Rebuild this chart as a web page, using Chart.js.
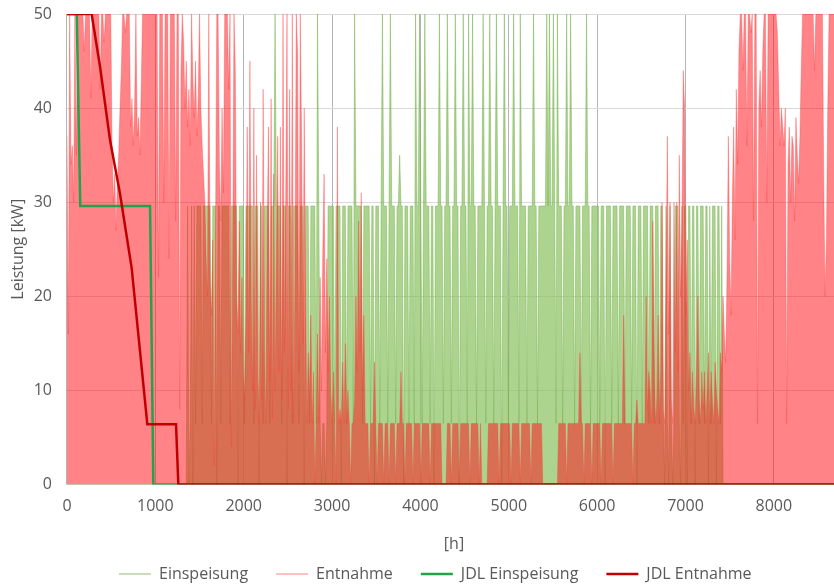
<!DOCTYPE html>
<html lang="de">
<head>
<meta charset="utf-8">
<title>Leistung Einspeisung / Entnahme</title>
<script src="https://cdn.jsdelivr.net/npm/chart.js@4.4.1/dist/chart.umd.min.js"></script>
<style>
  html, body { margin: 0; padding: 0; background: #fff; overflow: hidden; }
  #rahmen { width: 834px; height: 584px; overflow: hidden; }
</style>
</head>
<body>
<div id="rahmen"><canvas id="diagramm" width="867" height="592"></canvas></div>
<script>
// Zeitraster der Lastgänge: ein Wert alle 15 Stunden
const stunden = [];
for (let h = 0; h <= 8760; h += 15) stunden.push(h);

// Einspeisung [kW], je Zeile 20 Werte = 300 h
const einspeisung = [
  0, 0, 0, 0, 0, 0, 0, 0, 0, 0, 0, 0, 0, 0, 0, 0, 0, 0, 0, 0,
  0, 0, 0, 0, 0, 0, 0, 0, 0, 0, 0, 0, 0, 0, 0, 0, 0, 0, 0, 0,
  0, 0, 0, 0, 0, 0, 0, 0, 0, 0, 0, 0, 0, 0, 0, 0, 0, 0, 0, 0,
  0, 0, 0, 0, 0, 0, 0, 0, 0, 0, 0, 0, 0, 0, 0, 0, 0, 0, 0, 0,
  0, 0, 0, 0, 0, 0, 0, 0, 0, 0, 0, 29.6, 0, 6.5, 29.6, 0, 29.6, 6.5, 29.6, 29.6,
  29.6, 29.6, 6.5, 29.6, 29.6, 29.6, 29.6, 29.6, 29.6, 6.5, 29.6, 29.6, 29.6, 0, 29.6, 29.6, 6.5, 29.6, 29.6, 29.6,
  29.6, 29.6, 29.6, 6.5, 29.6, 29.6, 29.6, 29.6, 29.6, 0, 29.6, 29.6, 29.6, 29.6, 6.5, 29.6, 29.6, 29.6, 29.6, 29.6,
  29.6, 6.5, 29.6, 29.6, 29.6, 0, 29.6, 29.6, 6.5, 29.6, 29.6, 29.6, 29.6, 6.5, 29.6, 29.6, 29.6, 50, 29.6, 29.6,
  29.6, 29.6, 6.5, 29.6, 29.6, 29.6, 0, 29.6, 29.6, 29.6, 6.5, 29.6, 29.6, 29.6, 29.6, 6.5, 29.6, 29.6, 29.6, 0,
  29.6, 29.6, 29.6, 6.5, 29.6, 29.6, 29.6, 29.6, 6.5, 50, 29.6, 6.5, 0, 6.5, 6.5, 0, 6.5, 29.6, 29.6, 29.6,
  29.6, 29.6, 6.5, 29.6, 29.6, 29.6, 29.6, 0, 29.6, 29.6, 29.6, 6.5, 29.6, 29.6, 29.6, 29.6, 6.5, 50, 29.6, 29.6,
  29.6, 29.6, 29.6, 6.5, 29.6, 29.6, 29.6, 29.6, 29.6, 6.5, 29.6, 29.6, 0, 29.6, 29.6, 29.6, 6.5, 29.6, 50, 29.6,
  29.6, 29.6, 6.5, 29.6, 50, 29.6, 29.6, 29.6, 6.5, 29.6, 29.6, 35, 29.6, 29.6, 0, 29.6, 29.6, 29.6, 6.5, 29.6,
  29.6, 29.6, 6.5, 50, 29.6, 29.6, 50, 29.6, 6.5, 29.6, 50, 29.6, 29.6, 29.6, 6.5, 29.6, 29.6, 0, 29.6, 29.6,
  29.6, 50, 29.6, 29.6, 6.5, 29.6, 29.6, 50, 29.6, 29.6, 6.5, 29.6, 29.6, 50, 29.6, 29.6, 0, 29.6, 29.6, 50,
  29.6, 29.6, 6.5, 50, 29.6, 29.6, 50, 29.6, 29.6, 6.5, 29.6, 29.6, 29.6, 29.6, 50, 29.6, 6.5, 29.6, 29.6, 50,
  29.6, 29.6, 6.5, 29.6, 50, 29.6, 29.6, 29.6, 0, 29.6, 50, 29.6, 29.6, 6.5, 29.6, 29.6, 29.6, 50, 29.6, 29.6,
  29.6, 6.5, 50, 29.6, 29.6, 29.6, 29.6, 6.5, 29.6, 29.6, 29.6, 29.6, 50, 29.6, 29.6, 6.5, 29.6, 29.6, 29.6, 29.6,
  29.6, 29.6, 50, 29.6, 50, 29.6, 29.6, 50, 29.6, 6.5, 50, 29.6, 29.6, 29.6, 6.5, 29.6, 29.6, 50, 29.6, 29.6,
  50, 29.6, 29.6, 6.5, 29.6, 29.6, 29.6, 29.6, 6.5, 29.6, 29.6, 29.6, 50, 29.6, 29.6, 6.5, 29.6, 29.6, 29.6, 29.6,
  29.6, 29.6, 6.5, 29.6, 29.6, 29.6, 0, 29.6, 29.6, 29.6, 29.6, 6.5, 29.6, 29.6, 29.6, 29.6, 6.5, 29.6, 29.6, 29.6,
  29.6, 6.5, 29.6, 29.6, 29.6, 29.6, 6.5, 29.6, 29.6, 29.6, 0, 29.6, 29.6, 29.6, 6.5, 29.6, 29.6, 29.6, 29.6, 6.5,
  29.6, 29.6, 29.6, 6.5, 29.6, 29.6, 29.6, 6.5, 29.6, 29.6, 6.5, 0, 29.6, 6.5, 0, 29.6, 6.5, 0, 6.5, 29.6,
  29.6, 29.6, 6.5, 0, 29.6, 6.5, 29.6, 29.6, 0, 29.6, 29.6, 6.5, 29.6, 29.6, 0, 29.6, 29.6, 6.5, 29.6, 29.6,
  29.6, 6.5, 29.6, 29.6, 0, 29.6, 6.5, 29.6, 29.6, 29.6, 0, 29.6, 29.6, 6.5, 29.6, 0, 0, 0, 0, 0,
  0, 0, 0, 0, 0, 0, 0, 0, 0, 0, 0, 0, 0, 0, 0, 0, 0, 0, 0, 0,
  0, 0, 0, 0, 0, 0, 0, 0, 0, 0, 0, 0, 0, 0, 0, 0, 0, 0, 0, 0,
  0, 0, 0, 0, 0, 0, 0, 0, 0, 0, 0, 0, 0, 0, 0, 0, 0, 0, 0, 0,
  0, 0, 0, 0, 0, 0, 0, 0, 0, 0, 0, 0, 0, 0, 0, 0, 0, 0, 0, 0,
  0, 0, 0, 0, 0
];

// Entnahme [kW], gleiches Raster
const entnahme = [
  37, 16, 50, 34, 36, 30, 50, 35, 50, 50, 50, 50, 50, 46, 50, 50, 50, 50, 41, 50,
  50, 50, 50, 50, 50, 42, 50, 50, 47, 50, 50, 50, 50, 50, 36, 30, 33, 27, 32, 35,
  40, 44, 50, 50, 48, 50, 50, 50, 38, 41, 36, 40, 50, 37, 39, 35, 42, 50, 50, 50,
  50, 50, 50, 50, 50, 50, 50, 50, 50, 22, 50, 50, 50, 30, 50, 50, 50, 24, 50, 50,
  50, 50, 28, 50, 50, 8, 44, 50, 47, 40, 45, 38, 42, 36, 50, 43, 39, 45, 37, 41,
  50, 40, 36, 33, 30, 24, 20, 50, 22, 18, 26, 2, 25, 50, 50, 34, 28, 40, 31, 50,
  50, 50, 42, 50, 4, 24, 50, 44, 20, 16, 28, 14, 22, 12, 9, 18, 38, 14, 45, 20,
  10, 40, 8, 35, 12, 6.5, 30, 9, 42, 15, 6.5, 26, 38, 11, 41, 7, 33, 10, 24, 37,
  12, 38, 9, 50, 14, 30, 50, 8, 42, 10, 50, 6.5, 22, 50, 46, 12, 50, 37, 15, 40,
  20, 6.5, 14, 9, 18, 6.5, 12, 0, 6.5, 16, 6.5, 22, 10, 25, 33, 14, 24, 12, 20, 10,
  6.5, 12, 6.5, 0, 38, 6.5, 8, 6.5, 13, 6.5, 15, 6.5, 10, 6.5, 0, 6.5, 6.5, 9, 20, 12,
  28, 14, 31, 10, 18, 6.5, 6.5, 6.5, 0, 6.5, 6.5, 6.5, 13, 6.5, 0, 6.5, 6.5, 6.5, 6.5, 0,
  6.5, 6.5, 6.5, 0, 6.5, 6.5, 6.5, 6.5, 0, 6.5, 6.5, 6.5, 12, 6.5, 6.5, 0, 6.5, 6.5, 6.5, 6.5,
  6.5, 0, 6.5, 6.5, 6.5, 6.5, 6.5, 0, 6.5, 6.5, 6.5, 6.5, 6.5, 6.5, 0, 6.5, 6.5, 6.5, 6.5, 6.5,
  6.5, 6.5, 6.5, 0, 0, 0, 0, 6.5, 6.5, 6.5, 0, 6.5, 6.5, 6.5, 6.5, 6.5, 0, 6.5, 6.5, 6.5,
  6.5, 6.5, 6.5, 6.5, 0, 6.5, 6.5, 6.5, 6.5, 6.5, 6.5, 0, 6.5, 0, 0, 0, 0, 0, 6.5, 6.5,
  6.5, 6.5, 6.5, 6.5, 6.5, 6.5, 0, 6.5, 6.5, 6.5, 6.5, 6.5, 6.5, 6.5, 6.5, 0, 6.5, 6.5, 6.5, 6.5,
  6.5, 6.5, 0, 6.5, 6.5, 6.5, 6.5, 6.5, 6.5, 6.5, 0, 6.5, 6.5, 6.5, 6.5, 6.5, 6.5, 6.5, 6.5, 0,
  0, 0, 0, 0, 0, 0, 0, 0, 0, 0, 0, 6.5, 6.5, 6.5, 6.5, 6.5, 6.5, 0, 6.5, 6.5,
  6.5, 6.5, 6.5, 6.5, 6.5, 6.5, 6.5, 14, 6.5, 6.5, 0, 6.5, 6.5, 6.5, 6.5, 6.5, 0, 6.5, 6.5, 6.5,
  6.5, 6.5, 6.5, 0, 6.5, 6.5, 6.5, 6.5, 6.5, 6.5, 6.5, 6.5, 0, 6.5, 6.5, 6.5, 6.5, 6.5, 6.5, 6.5,
  18, 6.5, 6.5, 6.5, 6.5, 6.5, 6.5, 0, 6.5, 6.5, 9, 6.5, 6.5, 6.5, 6.5, 6.5, 6.5, 20, 8, 12,
  10, 6.5, 28, 14, 6.5, 9, 18, 6.5, 12, 30, 8, 6.5, 22, 37, 16, 30, 9, 6.5, 30, 14,
  30, 12, 35, 20, 28, 44, 40, 18, 26, 10, 14, 6.5, 12, 8, 6.5, 12, 20, 9, 6.5, 12,
  8, 12, 6.5, 10, 14, 6.5, 12, 9, 6.5, 13, 10, 8, 6.5, 14, 12, 20, 16, 13, 22, 37,
  24, 18, 30, 38, 26, 42, 34, 46, 50, 50, 44, 50, 50, 36, 50, 50, 48, 50, 28, 50,
  50, 6.5, 40, 44, 38, 46, 50, 50, 30, 50, 50, 50, 50, 50, 50, 50, 48, 42, 36, 40,
  38, 36, 40, 6.5, 34, 38, 30, 37, 36, 28, 39, 35, 32, 37, 44, 50, 50, 50, 50, 50,
  50, 50, 50, 50, 44, 50, 50, 50, 50, 50, 50, 32, 20, 26, 40, 50, 50, 50, 50, 50,
  50, 48, 50, 45, 50
];

// Jahresdauerlinien als Stützstellen
const jdlEinspeisungStunden = [0, 110, 150, 940, 977, 8760];
const jdlEinspeisungWerte = [50, 50, 29.6, 29.6, 0, 0];
const jdlEntnahmeStunden = [0, 279, 374, 487, 600, 732, 826, 909, 1234, 1260, 8760];
const jdlEntnahmeWerte = [50, 50, 44.4, 36.6, 30.9, 23, 14.2, 6.4, 6.4, 0, 0];

// Achsenbeschriftung
const xTicks = [0, 1000, 2000, 3000, 4000, 5000, 6000, 7000, 8000];
const yTicks = [0, 10, 20, 30, 40, 50];

function punkte(xs, ys) {
    return xs.map((x, i) => ({ x: x, y: ys[i] }));
}

Chart.defaults.font.family = "'Open Sans', sans-serif";
Chart.defaults.font.size = 16;
Chart.defaults.color = '#595959';

new Chart(document.getElementById('diagramm'), {
    type: 'line',
    data: {
        datasets: [{
            label: 'Einspeisung',
            data: punkte(stunden, einspeisung),
            borderColor: 'rgba(112, 173, 71, 0.45)',
            backgroundColor: 'rgba(140, 195, 100, 0.72)',
            borderWidth: 1,
            fill: 'origin',
            pointRadius: 0,
            order: 4
        }, {
            label: 'Entnahme',
            data: punkte(stunden, entnahme),
            borderColor: 'rgba(255, 60, 60, 0.35)',
            backgroundColor: 'rgba(255, 20, 28, 0.53)',
            borderWidth: 1,
            fill: 'origin',
            pointRadius: 0,
            order: 3
        }, {
            label: 'JDL Einspeisung',
            data: punkte(jdlEinspeisungStunden, jdlEinspeisungWerte),
            borderColor: '#22a34a',
            backgroundColor: '#22a34a',
            borderWidth: 2.5,
            fill: false,
            pointRadius: 0,
            order: 2
        }, {
            label: 'JDL Entnahme',
            data: punkte(jdlEntnahmeStunden, jdlEntnahmeWerte),
            borderColor: '#c00000',
            backgroundColor: '#c00000',
            borderWidth: 2.5,
            fill: false,
            pointRadius: 0,
            order: 1
        }]
    },
    options: {
        responsive: false,
        animation: false,
        layout: { padding: { top: 14, left: 3.5, right: 0, bottom: 0 } },
        plugins: {
            legend: {
                position: 'bottom',
                labels: {
                    boxWidth: 32,
                    boxHeight: 0,
                    padding: 28,
                    sort: (a, b) => a.datasetIndex - b.datasetIndex
                }
            },
            tooltip: { enabled: false }
        },
        scales: {
            x: {
                type: 'linear',
                min: 0,
                max: 8760,
                afterBuildTicks: (achse) => { achse.ticks = xTicks.map(v => ({ value: v })); },
                ticks: { padding: 3, callback: (wert) => String(wert) },
                grid: { color: '#b4b4b4', tickLength: 9, tickColor: 'transparent' },
                border: { color: '#d9d9d9' },
                title: { display: true, text: '[h]', padding: { top: 16, bottom: -16 } }
            },
            y: {
                min: 0,
                max: 50,
                afterBuildTicks: (achse) => { achse.ticks = yTicks.map(v => ({ value: v })); },
                ticks: { padding: 3, callback: (wert) => String(wert) },
                grid: { color: '#d9d9d9', tickLength: 12, tickColor: 'transparent' },
                border: { display: false },
                title: { display: true, text: 'Leistung [kW]', padding: { top: 5, bottom: 3 } }
            },
            // leerer Rand rechts, damit die Legende mittig über der ganzen Breite sitzt
            rand: {
                position: 'right',
                display: true,
                grid: { display: false, drawTicks: false },
                border: { display: false },
                ticks: { display: false },
                afterFit: (achse) => { achse.width = 26; }
            }
        }
    }
});
</script>
</body>
</html>
